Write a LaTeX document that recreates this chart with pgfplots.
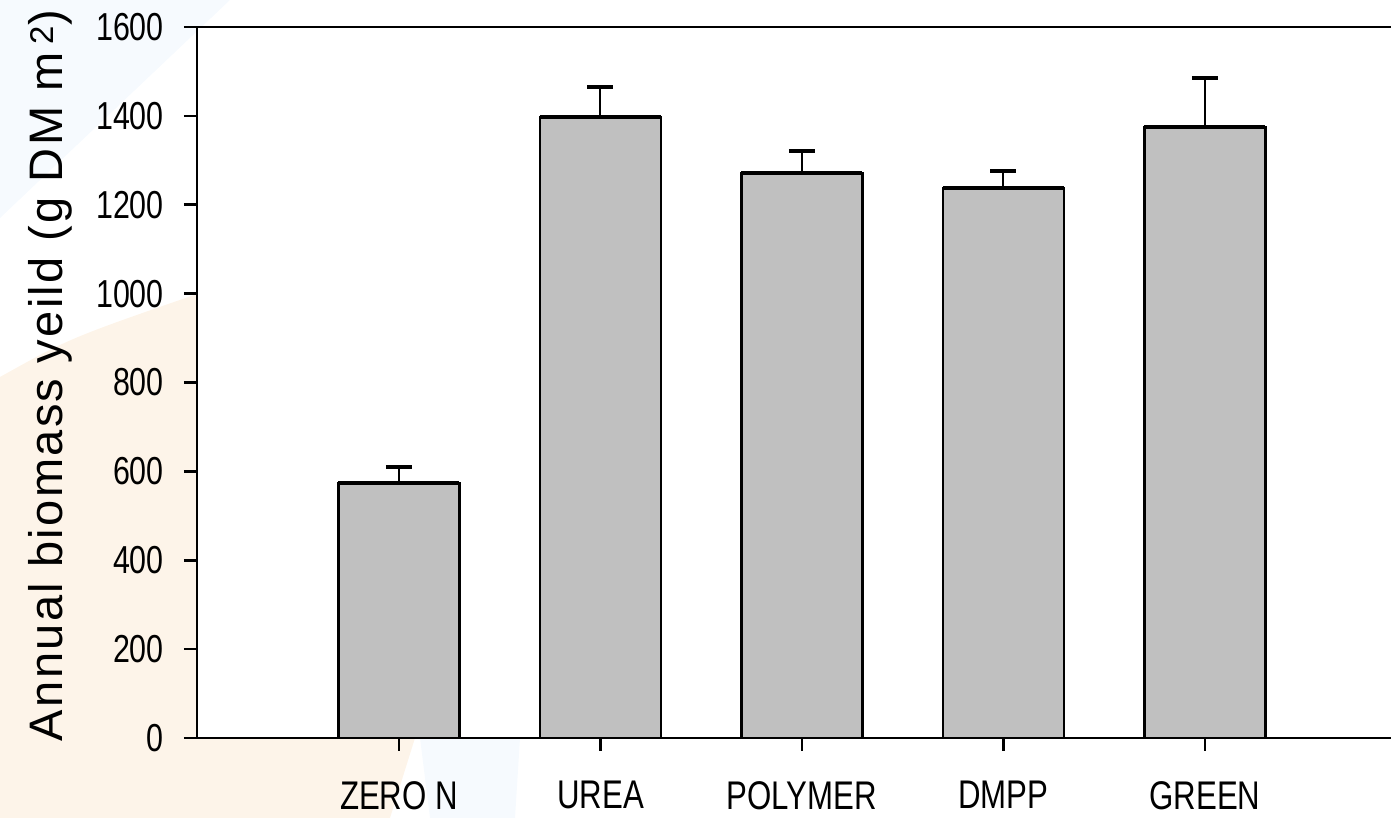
\documentclass[border=0pt]{standalone}
\usepackage{fontspec}
\setmainfont{Liberation Sans}
\newfontfamily\narrowfont[FakeStretch=0.78]{Liberation Sans}
\newfontfamily\labelfont[LetterSpace=5]{Liberation Sans}
\usepackage{pgfplots}
\pgfplotsset{compat=1.18}
\pgfdeclarelayer{bg}
\pgfsetlayers{bg,main}

\definecolor{barfill}{RGB}{192,192,192}
\definecolor{tintorange}{RGB}{253,244,233}
\definecolor{tintblue}{RGB}{246,250,254}

\begin{document}
\begin{tikzpicture}
\begin{axis}[
  name=ax,
  scale only axis,
  width=1200pt, height=711pt,
  xmin=-1.0025, xmax=4.953,
  ymin=0, ymax=1600,
  axis line style={line width=2.8pt},
  tick align=outside,
  xtick pos=bottom, ytick pos=left,
  xtick={0,1,2,3,4},
  xticklabels={ZERO N, UREA, POLYMER, DMPP, GREEN},
  ytick={0,200,...,1600},
  major tick length=13pt,
  tick style={line width=2.6pt, black},
  /pgf/number format/assume math mode=true,
  /pgf/number format/1000 sep={},
  xticklabel style={font=\narrowfont\fontsize{40}{40}\selectfont, inner sep=0pt, anchor=north, yshift=-30pt},
  yticklabel style={font=\narrowfont\fontsize{39}{39}\selectfont, inner sep=0pt, anchor=east, xshift=-20pt},
  ylabel={Annual biomass yeild (g DM m\,\textsuperscript{2})},
  ylabel style={at={(axis description cs:0,0.51)}, anchor=south, inner sep=0pt, yshift=125pt, font=\labelfont\fontsize{47}{47}\selectfont},
  clip=false,
]
% bars with standard errors
\addplot[ybar, bar shift=0pt, bar width=121pt, fill=barfill, draw=black, line width=2.2pt,
  error bars/.cd, y dir=plus, y explicit,
  error bar style={line width=2pt, black},
  error mark options={line width=4pt, mark size=13pt, black, rotate=90}]
  coordinates {
    (0,574)  +- (0,36)
    (1,1397) +- (0,68)
    (2,1271) +- (0,50)
    (3,1238) +- (0,38)
    (4,1375) +- (0,110)
  };
% heavy rule along each bar top
\addplot[draw=none, mark=none,
  error bars/.cd, y dir=minus, y explicit,
  error bar style={draw=none},
  error mark options={line width=4.5pt, mark size=60.5pt, black, rotate=90}]
  coordinates {
    (0,574)  +- (0,0)
    (1,1397) +- (0,0)
    (2,1271) +- (0,0)
    (3,1238) +- (0,0)
    (4,1375) +- (0,0)
  };
\end{axis}
\begin{pgfonlayer}{bg}
  \coordinate (o) at ([xshift=-197pt,yshift=-80pt]ax.south west);
  \fill[tintblue] ([shift={(0pt,818pt)}]o) -- ([shift={(230pt,818pt)}]o) -- ([shift={(0pt,600pt)}]o) -- cycle;
  \fill[tintblue] ([shift={(420pt,80pt)}]o) -- ([shift={(520pt,80pt)}]o) -- ([shift={(515pt,0pt)}]o) -- ([shift={(430pt,0pt)}]o) -- cycle;
  \fill[tintorange] ([shift={(0pt,441pt)}]o) .. controls ([shift={(70pt,480pt)}]o) .. ([shift={(200pt,525pt)}]o)
     -- ([shift={(200pt,80pt)}]o) -- ([shift={(415pt,80pt)}]o) -- ([shift={(390pt,0pt)}]o) -- (o) -- cycle;
  \fill[white] ([shift={(197pt,80pt)}]o) rectangle ([shift={(1391pt,791pt)}]o);
\end{pgfonlayer}
\pgfresetboundingbox
\path ([xshift=-197pt,yshift=-80pt]ax.south west) rectangle ++(1391pt,818pt);
\end{tikzpicture}
\end{document}
